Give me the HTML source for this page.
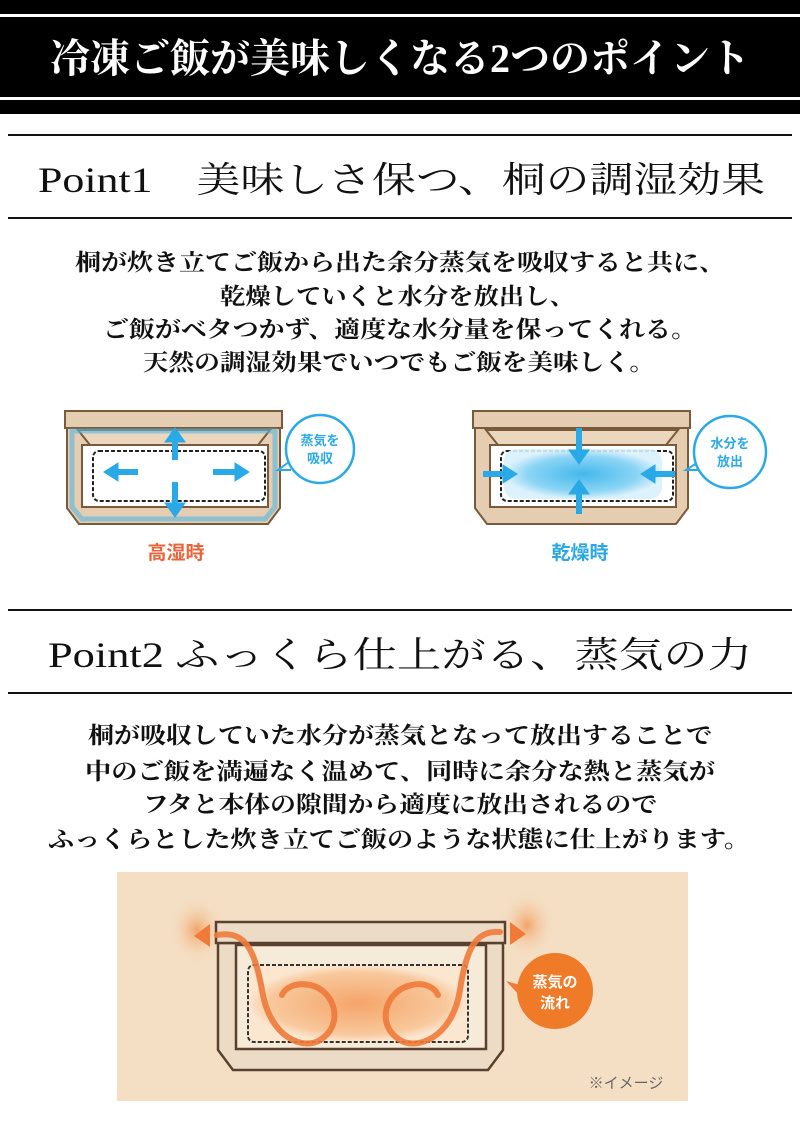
<!DOCTYPE html>
<html><head><meta charset="utf-8"><style>
html,body{margin:0;padding:0;background:#fff;width:800px;height:1123px;overflow:hidden}
svg{display:block}
.m{font-family:"Liberation Serif","Noto Serif CJK JP","Noto Serif CJK SC",serif}
.g{font-family:"Liberation Sans","Noto Sans CJK JP",sans-serif;font-weight:bold}
</style></head><body>
<svg width="800" height="1123" viewBox="0 0 800 1123" xmlns="http://www.w3.org/2000/svg">
<defs>
<radialGradient id="bl" cx="50%" cy="50%" r="50%"><stop offset="0" stop-color="#2fb0ea"/><stop offset="0.7" stop-color="#7fd0f4"/><stop offset="1" stop-color="#d8f0fb"/></radialGradient>
<radialGradient id="og" cx="50%" cy="50%" r="50%"><stop offset="0" stop-color="#f5a56a"/><stop offset="0.8" stop-color="#f8c89c"/><stop offset="1" stop-color="#fbe6d0"/></radialGradient>
<radialGradient id="glow" cx="50%" cy="50%" r="50%"><stop offset="0" stop-color="#f3a468"/><stop offset="1" stop-color="#f3dcc0" stop-opacity="0"/></radialGradient>
</defs>
<rect x="0" y="0" width="800" height="114" fill="#000"/>
<rect x="0" y="14" width="800" height="3" fill="#fff"/>
<rect x="0" y="97" width="800" height="3" fill="#fff"/>
<text class="m" x="400" y="72" font-size="40" font-weight="bold" fill="#fff" text-anchor="middle" textLength="700" lengthAdjust="spacingAndGlyphs">冷凍ご飯が美味しくなる2つのポイント</text>
<rect x="8" y="134" width="784" height="2" fill="#111"/>
<rect x="8" y="217" width="784" height="2" fill="#111"/>
<text class="m" x="38" y="192" font-size="36" fill="#111" textLength="727" lengthAdjust="spacingAndGlyphs">Point1　美味しさ保つ、桐の調湿効果</text>
<g class="m" font-size="23" font-weight="bold" fill="#111">
<text x="75" y="270" textLength="650" lengthAdjust="spacingAndGlyphs">桐が炊き立てご飯から出た余分蒸気を吸収すると共に、</text>
<text x="220" y="304" textLength="355" lengthAdjust="spacingAndGlyphs">乾燥していくと水分を放出し、</text>
<text x="103" y="337" textLength="594" lengthAdjust="spacingAndGlyphs">ご飯がベタつかず、適度な水分量を保ってくれる。</text>
<text x="143" y="370" textLength="512" lengthAdjust="spacingAndGlyphs">天然の調湿効果でいつでもご飯を美味しく。</text>
</g>
<g stroke="#7a5a3a" stroke-width="2" fill="#e4cdb0">
<path d="M67 428 L280 428 L280 508 L268 524 L79 524 L67 508 Z"/>
<rect x="65" y="411" width="217" height="17"/>
<path d="M78 430 L270 430 L258 445 L90 445 Z" fill="#ead7bd"/>
<rect x="82" y="445" width="186" height="62" fill="#fff"/>
</g>
<path d="M72 431 L275 431 L275 507 L265 519 L82 519 L72 507 Z" fill="none" stroke="#56b8e6" stroke-width="5" opacity="0.6"/>
<rect x="93" y="451" width="172" height="50" rx="6" fill="#fff" stroke="#222" stroke-width="2" stroke-dasharray="4 2"/>
<g fill="#29a9e6" stroke="#29a9e6">
<line x1="175" y1="440" x2="175" y2="460" stroke-width="6"/><path d="M165 442 L175 428 L185 442 Z"/>
<line x1="175" y1="482" x2="175" y2="505" stroke-width="6"/><path d="M165 503 L175 517 L185 503 Z"/>
<line x1="115" y1="472" x2="138" y2="472" stroke-width="6"/><path d="M118 463 L104 472 L118 481 Z"/>
<line x1="213" y1="472" x2="238" y2="472" stroke-width="6"/><path d="M235 463 L249 472 L235 481 Z"/>
</g>
<path d="M289 462 L278 470 L291 470" fill="#fff" stroke="#29a9e6" stroke-width="2"/>
<circle cx="320" cy="449" r="34" fill="#fff" stroke="#29a9e6" stroke-width="2.5"/>
<text class="g" x="320" y="445" font-size="13" fill="#29a9e6" text-anchor="middle">蒸気を</text>
<text class="g" x="320" y="463" font-size="13" fill="#29a9e6" text-anchor="middle">吸収</text>
<text class="g" x="176" y="559" font-size="19" fill="#e8643a" text-anchor="middle">高湿時</text>
<g stroke="#7a5a3a" stroke-width="2" fill="#e4cdb0">
<path d="M475 428 L688 428 L688 508 L676 524 L487 524 L475 508 Z"/>
<rect x="473" y="411" width="217" height="17"/>
<path d="M486 430 L678 430 L666 445 L498 445 Z" fill="#ead7bd"/>
<rect x="490" y="445" width="186" height="62" fill="#fff"/>
</g>
<rect x="501" y="451" width="172" height="50" rx="6" fill="#fff" stroke="#222" stroke-width="2" stroke-dasharray="4 2"/>
<rect x="504" y="449" width="158" height="50" rx="12" fill="url(#bl)" opacity="0.9"/>
<g fill="#29a9e6" stroke="#29a9e6">
<line x1="579" y1="428" x2="579" y2="452" stroke-width="6"/><path d="M569 450 L579 464 L589 450 Z"/>
<line x1="579" y1="492" x2="579" y2="514" stroke-width="6"/><path d="M569 494 L579 480 L589 494 Z"/>
<line x1="483" y1="474" x2="505" y2="474" stroke-width="6"/><path d="M503 465 L517 474 L503 483 Z"/>
<line x1="653" y1="474" x2="675" y2="474" stroke-width="6"/><path d="M655 465 L641 474 L655 483 Z"/>
</g>
<path d="M697 463 L686 470 L699 470" fill="#fff" stroke="#29a9e6" stroke-width="2"/>
<circle cx="730" cy="452" r="36" fill="#fff" stroke="#29a9e6" stroke-width="2.5"/>
<text class="g" x="730" y="448" font-size="13" fill="#29a9e6" text-anchor="middle">水分を</text>
<text class="g" x="730" y="466" font-size="13" fill="#29a9e6" text-anchor="middle">放出</text>
<text class="g" x="580" y="559" font-size="19" fill="#2aa8e3" text-anchor="middle">乾燥時</text>
<rect x="8" y="609" width="784" height="2" fill="#111"/>
<rect x="8" y="692" width="784" height="2" fill="#111"/>
<text class="m" x="48" y="667" font-size="36" fill="#111" textLength="704" lengthAdjust="spacingAndGlyphs">Point2 ふっくら仕上がる、蒸気の力</text>
<g class="m" font-size="23" font-weight="bold" fill="#111">
<text x="88" y="743" textLength="624" lengthAdjust="spacingAndGlyphs">桐が吸収していた水分が蒸気となって放出することで</text>
<text x="85" y="779" textLength="630" lengthAdjust="spacingAndGlyphs">中のご飯を満遍なく温めて、同時に余分な熱と蒸気が</text>
<text x="143" y="812" textLength="514" lengthAdjust="spacingAndGlyphs">フタと本体の隙間から適度に放出されるので</text>
<text x="48" y="847" textLength="702" lengthAdjust="spacingAndGlyphs">ふっくらとした炊き立てご飯のような状態に仕上がります。</text>
</g>
<rect x="117" y="872" width="571" height="229" fill="#f4dfc4"/>
<ellipse cx="197" cy="930" rx="28" ry="34" fill="url(#glow)"/>
<ellipse cx="527" cy="925" rx="28" ry="34" fill="url(#glow)"/>
<g stroke="#5a4030" stroke-width="2.5" fill="#ecdcc6">
<path d="M218 943 L503 943 L503 1050 L488 1070 L233 1070 L218 1050 Z"/>
<rect x="216" y="922" width="289" height="21"/>
<rect x="236" y="945" width="250" height="104" fill="#f6ead8"/>
</g>
<rect x="248" y="965" width="220" height="77" rx="6" fill="url(#og)" stroke="#333" stroke-width="2" stroke-dasharray="4 2"/>
<g fill="none" stroke="#ef7a3a" stroke-width="6" stroke-linecap="round" opacity="0.9">
<path d="M217 935 C245 930 255 950 262 990 C270 1040 305 1050 320 1040 C345 1025 335 990 310 985 C295 982 285 988 282 995"/>
<path d="M500 932 C475 930 466 950 460 990 C452 1040 415 1050 400 1040 C375 1025 385 990 412 985 C425 982 435 988 438 995"/>
</g>
<path d="M210 924 L194 936 L210 947 Z" fill="#ef7a3a"/>
<path d="M510 922 L526 934 L510 945 Z" fill="#ef7a3a"/>
<path d="M520 985 L506 981 L522 998 Z" fill="#ef7a3a"/>
<circle cx="555" cy="991" r="38" fill="#ef7a28"/>
<text class="g" x="555" y="987" font-size="15" fill="#fff" text-anchor="middle">蒸気の</text>
<text class="g" x="555" y="1008" font-size="15" fill="#fff" text-anchor="middle">流れ</text>
<text x="626" y="1088" font-size="15" fill="#666" text-anchor="middle" font-family="'Liberation Sans','Noto Sans CJK JP',sans-serif">※イメージ</text>
</svg>
</body></html>
